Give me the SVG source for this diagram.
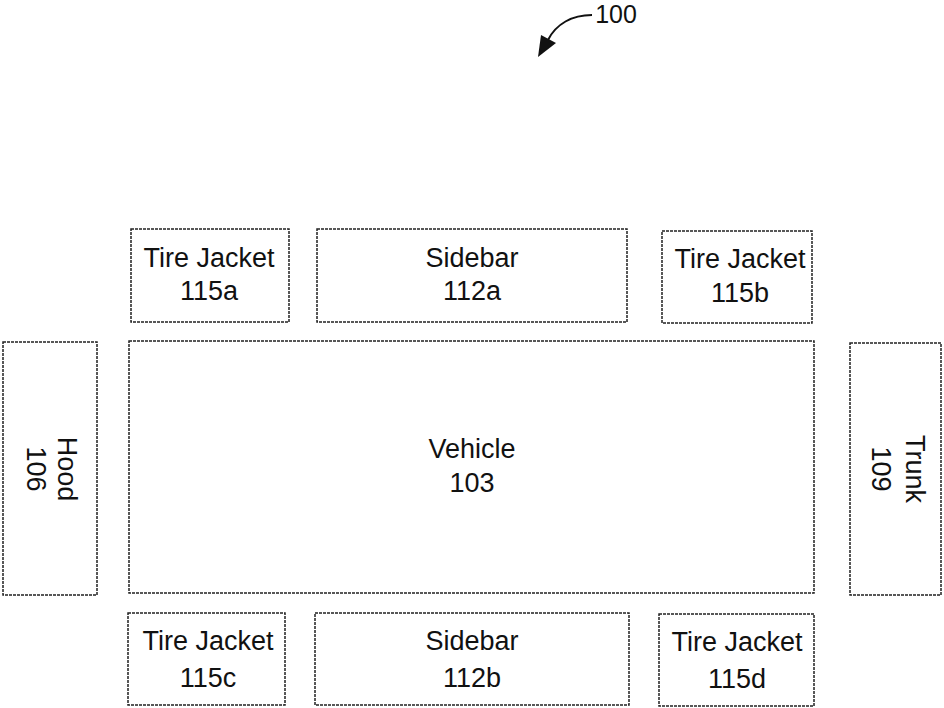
<svg xmlns="http://www.w3.org/2000/svg" width="944" height="708" viewBox="0 0 944 708">
<style>
.box{fill:#fff;stroke:#222;stroke-width:1.5;stroke-dasharray:3,1}
.t{font-family:"Liberation Sans",Arial,sans-serif;font-size:27px;fill:#111;text-anchor:middle}
</style>
<rect width="944" height="708" fill="#fff"/>
<g id="connectors">
<path d="M592,15 C572,15 556,24 548,40" fill="none" stroke="#111" stroke-width="2"/>
<path d="M538,57 L541,35 L556,43 z" fill="#111"/>
</g>
<g id="label100"><text class="t" x="616" y="23" style="font-size:25px">100</text></g>
<g id="n115a"><rect class="box" x="131" y="229" width="158" height="93"/><text class="t" x="209" y="267">Tire Jacket</text><text class="t" x="209" y="300">115a</text></g>
<g id="n112a"><rect class="box" x="317" y="229" width="310" height="93"/><text class="t" x="472" y="267">Sidebar</text><text class="t" x="472" y="300">112a</text></g>
<g id="n115b"><rect class="box" x="662" y="231" width="150" height="92"/><text class="t" x="740" y="268">Tire Jacket</text><text class="t" x="740" y="302">115b</text></g>
<g id="n106"><rect class="box" x="3" y="342" width="94" height="253"/><text class="t" transform="translate(50,469) rotate(90)"><tspan x="0" y="-8">Hood</tspan><tspan x="0" y="23">106</tspan></text></g>
<g id="n103"><rect class="box" x="129" y="341" width="685" height="252"/><text class="t" x="472" y="458">Vehicle</text><text class="t" x="472" y="492">103</text></g>
<g id="n109"><rect class="box" x="850" y="343" width="91" height="252"/><text class="t" transform="translate(896,469) rotate(90)"><tspan x="0" y="-10">Trunk</tspan><tspan x="0" y="24">109</tspan></text></g>
<g id="n115c"><rect class="box" x="128" y="613" width="157" height="92"/><text class="t" x="208" y="650">Tire Jacket</text><text class="t" x="208" y="687">115c</text></g>
<g id="n112b"><rect class="box" x="315" y="613" width="314" height="92"/><text class="t" x="472" y="650">Sidebar</text><text class="t" x="472" y="687">112b</text></g>
<g id="n115d"><rect class="box" x="659" y="614" width="155" height="92"/><text class="t" x="737" y="651">Tire Jacket</text><text class="t" x="737" y="688">115d</text></g>
</svg>
